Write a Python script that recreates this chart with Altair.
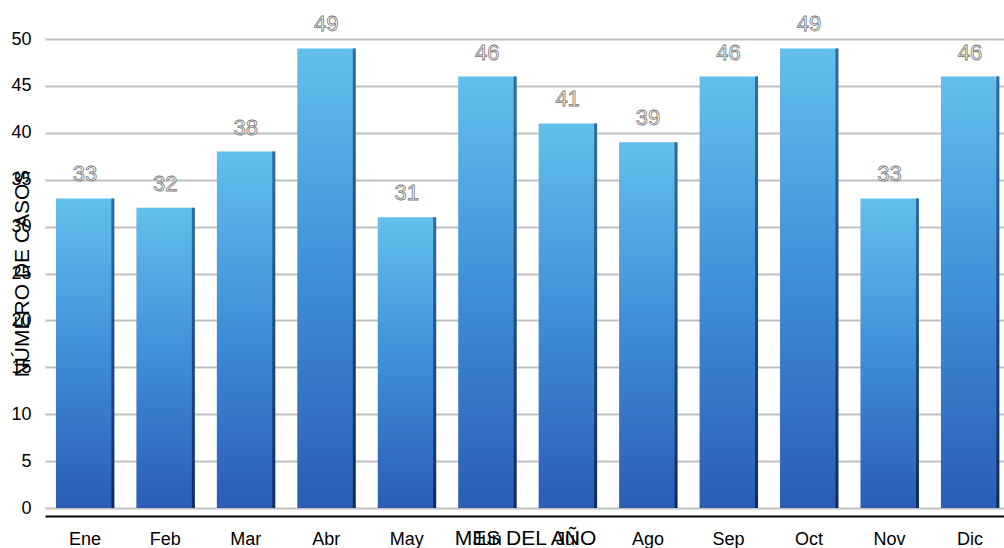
import altair as alt
import pandas as pd

meses = ["Ene", "Feb", "Mar", "Abr", "May", "Jun", "Jul", "Ago", "Sep", "Oct", "Nov", "Dic"]
casos = [33, 32, 38, 49, 31, 46, 41, 39, 46, 49, 33, 46]

df = pd.DataFrame({"mes": meses, "casos": casos})

FONT = "Liberation Sans"

x_enc = alt.X(
    "mes:N",
    sort=meses,
    scale=alt.Scale(paddingInner=0.28, paddingOuter=0.1, align=0.68),
    axis=alt.Axis(
        title="MES DEL AÑO",
        titleFont=FONT,
        titleFontSize=21,
        titleFontWeight="normal",
        titleColor="#000000",
        titleX=480,
        titleY=22,
        titleBaseline="middle",
        labelAngle=0,
        labelFont=FONT,
        labelFontSize=18,
        labelColor="#000000",
        labelPadding=14,
        ticks=False,
        domain=True,
        domainColor="#000000",
        domainWidth=2,
        offset=8,
        grid=False,
    ),
)

y_enc = alt.Y(
    "casos:Q",
    scale=alt.Scale(domain=[0, 50], nice=False),
    axis=alt.Axis(
        title="NÚMERO DE CASOS",
        titleFont=FONT,
        titleFontSize=21,
        titleFontWeight="normal",
        titleColor="#000000",
        titleX=-23,
        titleY=234,
        titleAngle=270,
        titleBaseline="middle",
        titleAlign="center",
        values=list(range(0, 51, 5)),
        labelFont=FONT,
        labelFontSize=18,
        labelColor="#000000",
        labelPadding=14,
        ticks=False,
        domain=False,
        grid=True,
        gridColor="#c0c0c0",
        gridWidth=2,
    ),
)

base = alt.Chart(df).encode(x=x_enc, y=y_enc)

barras = base.mark_bar(
    color=alt.Gradient(
        gradient="linear",
        stops=[
            alt.GradientStop(color="#63bfec", offset=0),
            alt.GradientStop(color="#3f8ed8", offset=0.5),
            alt.GradientStop(color="#2a5db5", offset=1),
        ],
        x1=0, x2=0, y1=0, y2=1,
    )
)

# thin shaded side on the right of each bar
lado = base.mark_bar(
    width=3,
    xOffset=28,
    color=alt.Gradient(
        gradient="linear",
        stops=[
            alt.GradientStop(color="#2f6d9e", offset=0),
            alt.GradientStop(color="#0f2c5a", offset=1),
        ],
        x1=0, x2=0, y1=0, y2=1,
    ),
)

etiquetas = base.mark_text(
    font=FONT,
    fontSize=22,
    fill="#ffffff",
    stroke="#777777",
    strokeWidth=0.8,
    baseline="middle",
    dy=-24,
).encode(text="casos:Q")

chart = (
    alt.layer(barras, lado, etiquetas)
    .properties(
        width=959,
        height=469,
        autosize=alt.AutoSizeParams(type="none"),
        padding={"left": 45, "top": 39, "right": 0, "bottom": 40},
        background="#ffffff",
    )
    .configure_view(stroke=None)
)

chart.save("out.html", embed_options={"renderer": "svg", "actions": False})
